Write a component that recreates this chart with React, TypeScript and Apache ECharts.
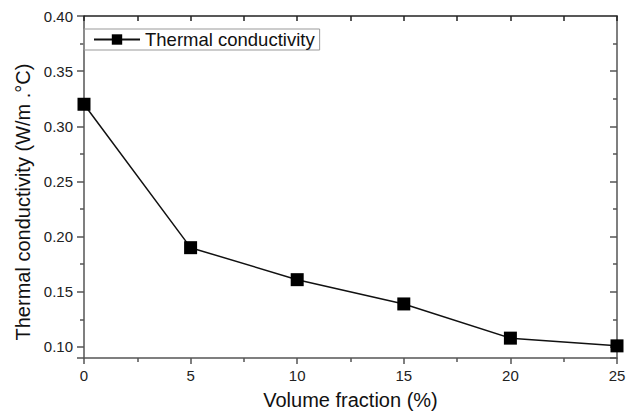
import React, { useEffect, useRef } from "react";
import * as echarts from "echarts";

const volumeFraction = [0, 5, 10, 15, 20, 25];
const conductivity = [0.32, 0.19, 0.161, 0.139, 0.108, 0.101];
const seriesName = "Thermal conductivity";
const xTitle = "Volume fraction (%)";
const yTitle = "Thermal conductivity (W/m .\u00B0C)";

const FONT = "'Liberation Sans', Arial, sans-serif";
const AXIS_COLOR = "#555";

export default function App() {
  const ref = useRef<HTMLDivElement>(null);
  useEffect(() => {
    if (!ref.current) return;
    const chart = echarts.init(ref.current, undefined, { renderer: "svg" });
    const data = volumeFraction.map((x, i) => [x, conductivity[i]]);
    chart.setOption({
      animation: false,
      backgroundColor: "#fff",
      textStyle: { fontFamily: FONT },
      grid: { left: 84, right: 19, top: 16, bottom: 52, containLabel: false },
      legend: {
        left: 84,
        top: 29,
        data: [seriesName],
        itemWidth: 46,
        itemHeight: 13,
        itemGap: 6,
        padding: [1, 5, 1, 9],
        borderColor: "#999",
        borderWidth: 1,
        textStyle: { fontFamily: FONT, fontSize: 18.5, color: "#111" },
      },
      graphic: [
        {
          type: "text",
          x: 23,
          y: 202,
          rotation: Math.PI / 2,
          style: {
            text: yTitle,
            font: `20px ${FONT}`,
            fill: "#111",
            align: "center",
            verticalAlign: "middle",
          },
        },
      ],
      xAxis: [
        {
          type: "value",
          min: 0,
          max: 25,
          interval: 5,
          name: xTitle,
          nameLocation: "middle",
          nameGap: 32,
          nameTextStyle: { fontFamily: FONT, fontSize: 20, color: "#111" },
          axisLine: { show: true, onZero: false, lineStyle: { color: AXIS_COLOR, width: 1.5 } },
          axisTick: { show: true, inside: false, length: 6, lineStyle: { color: AXIS_COLOR, width: 1.5 } },
          minorTick: { show: true, splitNumber: 2, length: 4, lineStyle: { color: AXIS_COLOR, width: 1.5 } },
          axisLabel: { fontFamily: FONT, fontSize: 15, color: "#222", margin: 10 },
          splitLine: { show: false },
        },
        {
          type: "value",
          position: "top",
          min: 0,
          max: 25,
          interval: 2.5,
          axisLine: { show: true, lineStyle: { color: "#222", width: 1.5 } },
          axisTick: { show: true, inside: true, length: 5, lineStyle: { color: "#222", width: 1.5 } },
          axisLabel: { show: false },
          splitLine: { show: false },
        },
      ],
      yAxis: [
        {
          type: "value",
          min: 0.09,
          max: 0.4,
          splitNumber: 6,
          axisLine: { show: true, onZero: false, lineStyle: { color: AXIS_COLOR, width: 1.5 } },
          axisTick: { show: true, inside: false, length: 7, lineStyle: { color: AXIS_COLOR, width: 1.5 } },
          minorTick: { show: true, splitNumber: 2, length: 4, lineStyle: { color: AXIS_COLOR, width: 1.5 } },
          axisLabel: {
            fontFamily: FONT,
            fontSize: 15,
            color: "#222",
            margin: 11,
            showMinLabel: false,
            formatter: (v: number) => v.toFixed(2),
          },
          splitLine: { show: false },
        },
        {
          type: "value",
          position: "right",
          min: 0.09,
          max: 0.4,
          splitNumber: 6,
          axisLine: { show: true, onZero: false, lineStyle: { color: AXIS_COLOR, width: 1.5 } },
          axisTick: { show: true, inside: true, length: 7, lineStyle: { color: AXIS_COLOR, width: 1.5 } },
          minorTick: { show: true, splitNumber: 2, length: 4, lineStyle: { color: AXIS_COLOR, width: 1.5 } },
          axisLabel: { show: false },
          splitLine: { show: false },
        },
      ],
      series: [
        {
          name: seriesName,
          type: "line",
          xAxisIndex: 0,
          yAxisIndex: 0,
          data,
          symbol: "rect",
          symbolSize: 13,
          showAllSymbol: true,
          clip: false,
          lineStyle: { color: "#111", width: 1.5 },
          itemStyle: { color: "#000" },
        },
      ],
    });
    return () => chart.dispose();
  }, []);
  return <div ref={ref} style={{ width: 636, height: 415, position: "absolute", left: 0, top: 0 }} />;
}
